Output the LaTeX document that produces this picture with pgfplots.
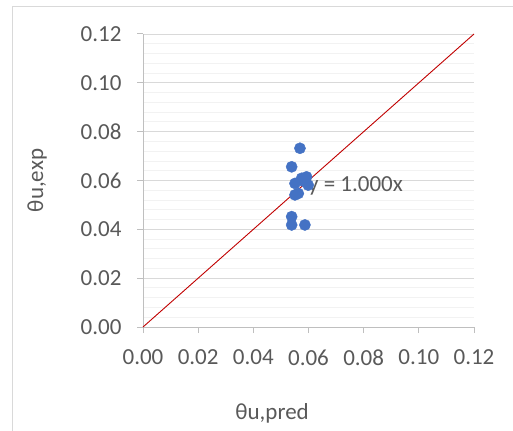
\documentclass[border=0pt]{standalone}
\usepackage{fontspec}
\setmainfont{Carlito}
\usepackage{pgfplots}
\pgfplotsset{compat=1.18}
\definecolor{gridmaj}{HTML}{D9D9D9}
\definecolor{gridmin}{HTML}{F2F2F2}
\definecolor{axisgray}{HTML}{BFBFBF}
\definecolor{textgray}{HTML}{595959}
\definecolor{frame}{HTML}{D9D9D9}
\definecolor{ptblue}{HTML}{4472C4}
\definecolor{trend}{HTML}{C00000}
\begin{document}
\begin{tikzpicture}[font=\fontsize{23bp}{27bp}\selectfont]
\useasboundingbox (0,0) rectangle (513bp,431bp);
\draw[color=frame, line width=1bp] (12bp,0) -- (12bp,424bp) -- (513bp,424bp);
\begin{axis}[
  at={(143bp,104bp)}, anchor=south west,
  scale only axis, width=331bp, height=293bp,
  xmin=0, xmax=0.12, ymin=0, ymax=0.12,
  xtick={0,0.02,0.04,0.06,0.08,0.1,0.12},
  ytick={0,0.02,0.04,0.06,0.08,0.1,0.12},
  minor x tick num=0, minor y tick num=4,
  ymajorgrids, yminorgrids,
  major grid style={draw=gridmaj, line width=0.9bp},
  minor grid style={draw=gridmin, line width=0.9bp},
  axis x line*=bottom, axis y line*=left,
  axis line style={draw=axisgray, line width=1bp, -},
  tick align=outside, major tick length=6bp, minor tick length=0bp,
  tick style={draw=axisgray, line width=1bp},
  ticklabel style={text=textgray, font=\fontsize{23bp}{27bp}\selectfont},
  xticklabel style={yshift=-13bp},
  yticklabel style={xshift=-12bp},
  /pgf/number format/.cd, fixed, fixed zerofill, precision=2, assume math mode=true,
  /pgfplots/.cd,
  scaled ticks=false,
  xlabel={θu,pred}, ylabel={θu,exp},
  label style={text=textgray, font=\fontsize{23bp}{27bp}\selectfont},
  xlabel style={at={(axis description cs:0.39,-0.2935)}, anchor=center},
  ylabel style={at={(axis description cs:-0.32,0.5)}, anchor=center, rotate=0},
  clip=false,
]
\addplot[trend, line width=0.9bp] coordinates {(0,0) (0.12,0.12)};
\addplot[only marks, mark=*, mark size=5.6bp, mark options={fill=ptblue, draw=ptblue}] coordinates {
(0.0569,0.0732)
(0.0539,0.0656)
(0.0575,0.0609)
(0.0593,0.0615)
(0.0551,0.0588)
(0.0599,0.0581)
(0.0580,0.0598)
(0.0563,0.0547)
(0.0551,0.0541)
(0.0539,0.0452)
(0.0539,0.0418)
(0.0587,0.0418)
};
\node[anchor=west, text=textgray, inner sep=0pt] at (axis cs:0.0598,0.0577) {y = 1.000x};
\end{axis}
\end{tikzpicture}
\end{document}
